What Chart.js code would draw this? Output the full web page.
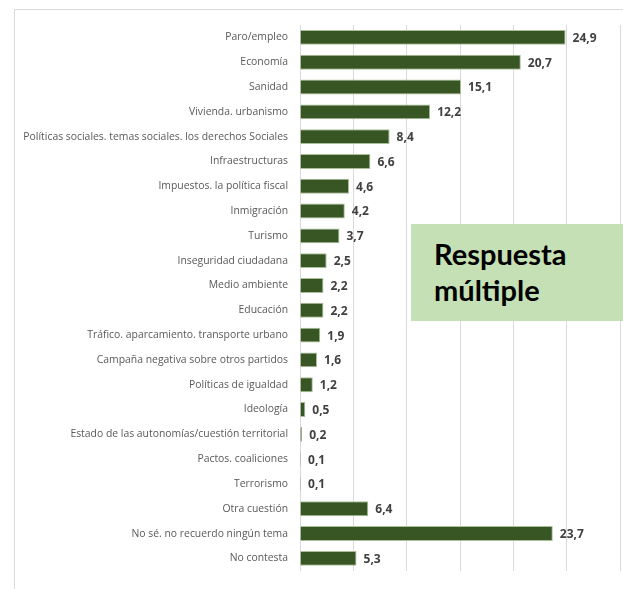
<!DOCTYPE html>
<html>
<head>
<meta charset="utf-8">
<script src="https://cdn.jsdelivr.net/npm/chart.js@4.4.0/dist/chart.umd.min.js"></script>
<style>
  html, body { margin: 0; padding: 0; background: #fff; }
  #wrap { position: relative; width: 623px; height: 589px; }
  #frame { position: absolute; left: 14px; top: 9px; right: -2px; bottom: -2px;
           border-top: 1px solid #d9d9d9; border-left: 1px solid #d9d9d9; }
  #note { position: absolute; left: 411px; top: 224px; width: 214px; height: 97px;
          background: #c5e0b4; font-family: Lato, "Open Sans", sans-serif; font-weight: bold;
          font-size: 29px; line-height: 36px; color: #000; padding: 12px 0 0 23px; box-sizing: border-box; }
  canvas { position: absolute; left: 0; top: 0; }
</style>
</head>
<body>
<div id="wrap">
  <div id="frame"></div>
  <canvas id="chart" width="623" height="589"></canvas>
  <div id="note">Respuesta<br>múltiple</div>
</div>
<script>
const categories = [
  'Paro/empleo',
  'Economía',
  'Sanidad',
  'Vivienda. urbanismo',
  'Políticas sociales. temas sociales. los derechos Sociales',
  'Infraestructuras',
  'Impuestos. la política fiscal',
  'Inmigración',
  'Turismo',
  'Inseguridad ciudadana',
  'Medio ambiente',
  'Educación',
  'Tráfico. aparcamiento. transporte urbano',
  'Campaña negativa sobre otros partidos',
  'Políticas de igualdad',
  'Ideología',
  'Estado de las autonomías/cuestión territorial',
  'Pactos. coaliciones',
  'Terrorismo',
  'Otra cuestión',
  'No sé. no recuerdo ningún tema',
  'No contesta'
];
const values = [24.9, 20.7, 15.1, 12.2, 8.4, 6.6, 4.6, 4.2, 3.7, 2.5, 2.2, 2.2, 1.9, 1.6, 1.2, 0.5, 0.2, 0.1, 0.1, 6.4, 23.7, 5.3];
const axisMax = 30;
const axisStep = 5;

// value labels at the end of each bar, comma decimals
const barValueLabels = {
  id: 'barValueLabels',
  afterDatasetsDraw(chart) {
    const ctx = chart.ctx;
    const meta = chart.getDatasetMeta(0);
    ctx.save();
    ctx.font = 'bold 12px "Open Sans", sans-serif';
    ctx.fillStyle = '#404040';
    ctx.textBaseline = 'middle';
    ctx.textAlign = 'left';
    meta.data.forEach((bar, i) => {
      ctx.fillText(values[i].toFixed(1).replace('.', ','), bar.x + 7, bar.y + 1);
    });
    ctx.restore();
  }
};

new Chart(document.getElementById('chart').getContext('2d'), {
  type: 'bar',
  data: {
    labels: categories,
    datasets: [{
      data: values,
      backgroundColor: '#375623',
      borderColor: '#a9bf98',
      borderWidth: 1,
      borderSkipped: 'start',
      barPercentage: 0.6,
      categoryPercentage: 1
    }]
  },
  options: {
    indexAxis: 'y',
    responsive: false,
    animation: false,
    layout: { padding: { top: 25, bottom: 3.8, right: 3, left: 0 } },
    plugins: {
      legend: { display: false },
      tooltip: { enabled: false }
    },
    scales: {
      x: {
        min: 0,
        max: axisMax,
        ticks: { display: false, stepSize: axisStep },
        grid: { color: '#d9d9d9', drawTicks: false },
        border: { display: false },
        afterFit(scale) { scale.height = 0; }
      },
      y: {
        ticks: {
          color: '#595959',
          padding: 12,
          font: { family: '"Open Sans", sans-serif', size: 10.4 }
        },
        grid: { display: false, drawTicks: false },
        border: { color: '#d9d9d9' },
        afterFit(scale) { scale.width = 300; }
      }
    }
  },
  plugins: [barValueLabels]
});
</script>
</body>
</html>
